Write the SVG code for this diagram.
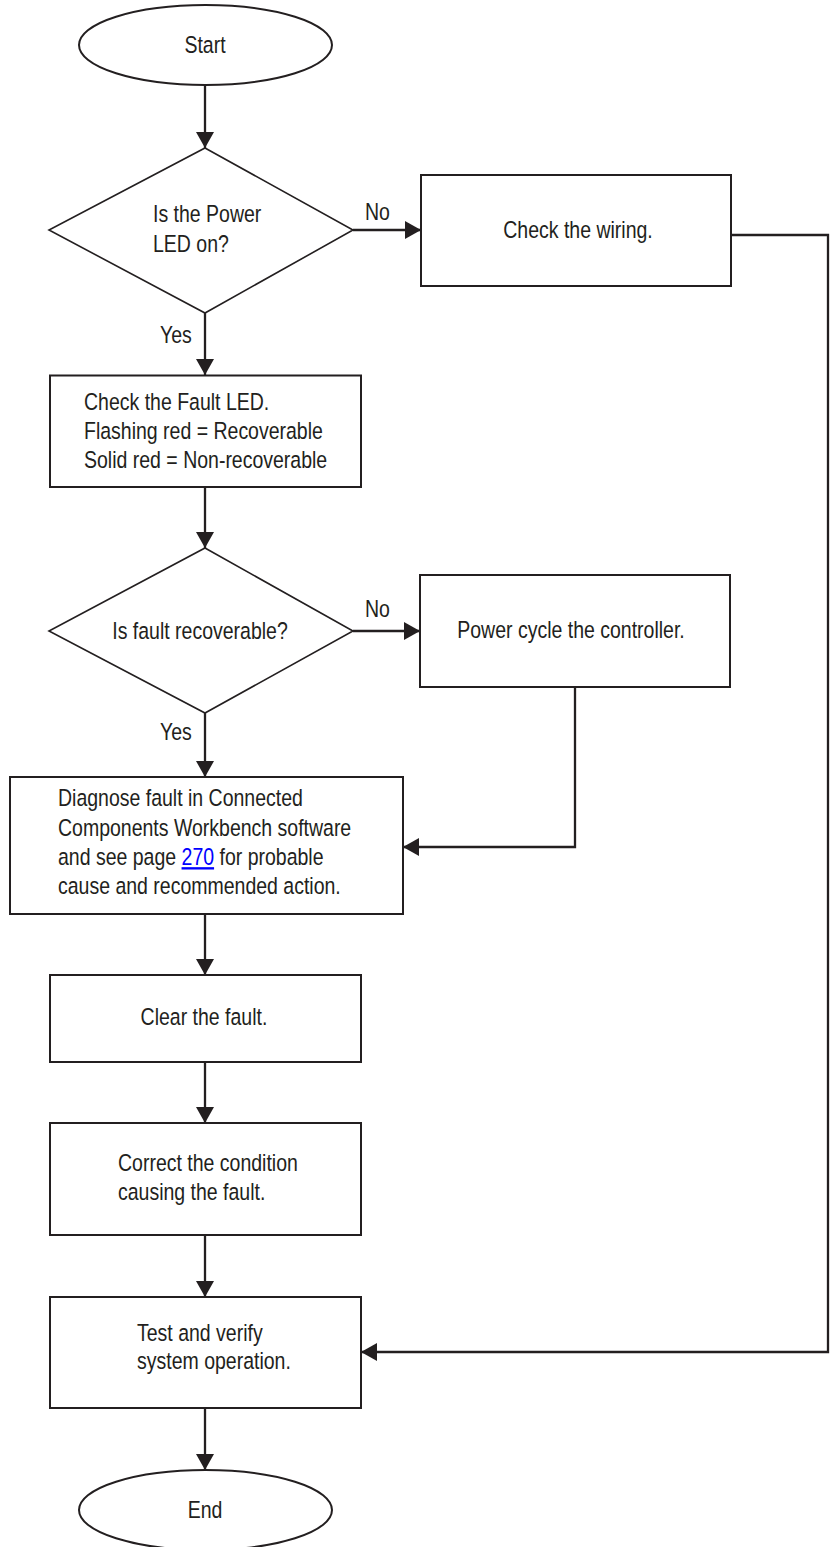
<svg xmlns="http://www.w3.org/2000/svg" width="830" height="1547" viewBox="0 0 830 1547">
<defs>
<marker id="ah" markerUnits="userSpaceOnUse" markerWidth="16" markerHeight="18" refX="16" refY="9" orient="auto">
<path d="M0,0 L16,9 L0,18 z" fill="#231f20"/>
</marker>
<style>
.shape{fill:#fff;stroke:#231f20;stroke-width:2}
.dia{fill:#fff;stroke:#231f20;stroke-width:1.6}
.conn{fill:none;stroke:#231f20;stroke-width:2.3;marker-end:url(#ah)}
text{font-family:"Liberation Sans Narrow","Arial Narrow","Liberation Sans",sans-serif;font-size:23.5px;fill:#231f20}
.c{text-anchor:middle}
.lnk{fill:#0000ff;text-decoration:underline}
</style>
</defs>
<rect width="830" height="1547" fill="#fff"/>
<g id="connectors">
<path class="conn" d="M205,85 V148"/>
<path class="conn" d="M353,230 H421"/>
<path class="conn" d="M731,235 H828 V1352 H361"/>
<path class="conn" d="M205,313 V375"/>
<path class="conn" d="M205,487 V548"/>
<path class="conn" d="M353,631 H420"/>
<path class="conn" d="M575,687 V847 H403"/>
<path class="conn" d="M205,713 V777"/>
<path class="conn" d="M205,914 V975"/>
<path class="conn" d="M205,1062 V1123"/>
<path class="conn" d="M205,1235 V1297"/>
<path class="conn" d="M205,1408 V1470"/>
<g transform="translate(365 0) scale(0.83 1)"><text x="0" y="220">No</text></g>
<g transform="translate(160 0) scale(0.83 1)"><text x="0" y="343">Yes</text></g>
<g transform="translate(365 0) scale(0.83 1)"><text x="0" y="617">No</text></g>
<g transform="translate(160 0) scale(0.83 1)"><text x="0" y="740">Yes</text></g>
</g>
<g id="start">
<ellipse class="shape" cx="205.5" cy="45" rx="126.5" ry="40"/>
<g transform="translate(205 0) scale(0.83 1)"><text class="c" x="0" y="53">Start</text></g>
</g>
<g id="power-led">
<polygon class="dia" points="205,148 353,230 205,313 49,230"/>
<g transform="translate(153 0) scale(0.83 1)">
<text x="0" y="222">Is the Power</text>
<text x="0" y="252">LED on?</text>
</g>
</g>
<g id="check-wiring">
<rect class="shape" x="421" y="175" width="310" height="111"/>
<g transform="translate(578 0) scale(0.83 1)"><text class="c" x="0" y="238">Check the wiring.</text></g>
</g>
<g id="check-fault-led">
<rect class="shape" x="50" y="375.5" width="311" height="111.5"/>
<g transform="translate(84 0) scale(0.83 1)">
<text x="0" y="410">Check the Fault LED.</text>
<text x="0" y="439">Flashing red = Recoverable</text>
<text x="0" y="468">Solid red = Non-recoverable</text>
</g>
</g>
<g id="fault-recoverable">
<polygon class="dia" points="205,548 353,631 205,713 49,631"/>
<g transform="translate(200 0) scale(0.83 1)"><text class="c" x="0" y="639">Is fault recoverable?</text></g>
</g>
<g id="power-cycle">
<rect class="shape" x="420" y="575" width="310" height="112"/>
<g transform="translate(571 0) scale(0.83 1)"><text class="c" x="0" y="638">Power cycle the controller.</text></g>
</g>
<g id="diagnose">
<rect class="shape" x="10" y="777" width="393" height="137"/>
<g transform="translate(58 0) scale(0.83 1)">
<text x="0" y="806">Diagnose fault in Connected</text>
<text x="0" y="836">Components Workbench software</text>
<text x="0" y="865">and see page <tspan class="lnk">270</tspan> for probable</text>
<text x="0" y="894">cause and recommended action.</text>
</g>
</g>
<g id="clear-fault">
<rect class="shape" x="50" y="975" width="311" height="87"/>
<g transform="translate(204 0) scale(0.83 1)"><text class="c" x="0" y="1025">Clear the fault.</text></g>
</g>
<g id="correct-condition">
<rect class="shape" x="50" y="1123" width="311" height="112"/>
<g transform="translate(118 0) scale(0.83 1)">
<text x="0" y="1171">Correct the condition</text>
<text x="0" y="1200">causing the fault.</text>
</g>
</g>
<g id="test-verify">
<rect class="shape" x="50" y="1297" width="311" height="111"/>
<g transform="translate(137 0) scale(0.83 1)">
<text x="0" y="1341">Test and verify</text>
<text x="0" y="1369">system operation.</text>
</g>
</g>
<g id="end">
<ellipse class="shape" cx="205.5" cy="1510" rx="126.5" ry="40"/>
<g transform="translate(205 0) scale(0.83 1)"><text class="c" x="0" y="1518">End</text></g>
</g>
</svg>
